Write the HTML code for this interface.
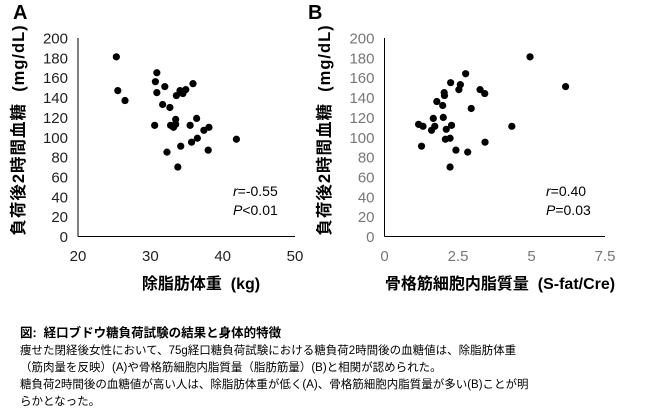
<!DOCTYPE html>
<html><head><meta charset="utf-8"><style>
body{margin:0;background:#fff;width:650px;height:419px;overflow:hidden;font-family:"Liberation Sans","Noto Sans CJK JP",sans-serif}
.cap{position:absolute;left:20px;top:325px;font-size:11.5px;line-height:17px;color:#000;white-space:nowrap}
.cap b{font-size:12.5px}
</style></head><body>
<svg id="svg" width="650" height="320" style="position:absolute;left:0;top:0" font-family="Liberation Sans, Noto Sans CJK JP, sans-serif"></svg>
<div class="cap">
<b>図:&nbsp; 経口ブドウ糖負荷試験の結果と身体的特徴</b><br>
痩せた閉経後女性において、75g経口糖負荷試験における糖負荷2時間後の血糖値は、除脂肪体重<br>
（筋肉量を反映）(A)や骨格筋細胞内脂質量（脂肪筋量）(B)と相関が認められた。<br>
糖負荷2時間後の血糖値が高い人は、除脂肪体重が低く(A)、骨格筋細胞内脂質量が多い(B)ことが明<br>
らかとなった。
</div>
<script>
const aX=[25.3,25.5,26.5,30.9,30.7,30.9,32.0,31.7,32.7,33.6,34.1,34.5,34.9,35.9,30.6,33.5,32.8,33.2,33.5,35.5,36.4,37.4,38.1,36.5,35.7,34.2,32.3,33.8,38.0,41.9];
const aY=[181,147,137,165,156,145,151,133,130,142,147,144,148,154,112,118,112,110,113,112,119,107,110,99,95,91,85,70,87,98];
const bX=[4.95,6.16,2.76,2.25,2.58,2.53,2.03,2.04,3.25,3.41,1.78,1.98,2.95,1.66,2.0,1.16,1.31,1.71,1.6,2.1,2.28,2.07,2.23,1.26,2.43,2.83,3.42,4.33,2.23];
const bY=[181,151,164,155,153,148,145,142,148,144,136,132,129,119,120,113,111,111,107,108,112,98,99,91,87,85,95,111,70];
const yTicks=[0,20,40,60,80,100,120,140,160,180,200];
const aTicks=[20,30,40,50];
const bTicks=[0,2.5,5,7.5];
const bTickLabels=["0","2.5","5","7.5"];
const NS="http://www.w3.org/2000/svg";
const svg=document.getElementById('svg');
function el(t,a,txt){const e=document.createElementNS(NS,t);for(const k in a)e.setAttribute(k,a[k]);if(txt!==undefined)e.textContent=txt;svg.appendChild(e);return e;}
function panel(o){
 const sx=v=>o.x0+(v-o.xmin)/(o.xmax-o.xmin)*(o.x1-o.x0);
 const sy=v=>236.5-v/200*198.5;
 let e=el('line',{x1:o.x0,y1:38,x2:o.x0,y2:236.5,stroke:'#000','stroke-width':1});
 
 e=el('line',{x1:o.x0,y1:236.5,x2:o.x1,y2:236.5,stroke:'#000','stroke-width':1});
 
 yTicks.forEach(t=>{e=el('text',{x:o.x0-10,y:sy(t)+5.5,'text-anchor':'end','font-size':15,fill:o.tc},t);
  });
 o.ticks.forEach((t,i)=>{e=el('text',{x:sx(t),y:261,'text-anchor':'middle','font-size':15,fill:o.tc},o.labels[i]);
  });
 o.xs.forEach((v,i)=>{e=el('circle',{cx:sx(v),cy:sy(o.ys[i]),r:3.6,fill:'#000'});
  });
 e=el('text',{x:o.tx,y:130,transform:`rotate(-90 ${o.tx} 130)`,'text-anchor':'middle','font-size':16.5,'font-weight':'bold','letter-spacing':1},'負荷後2時間血糖\u00a0\u00a0(mg/dL)');
 
 e=el('text',{x:o.xtx,y:289,'text-anchor':'middle','font-size':o.xfs,'font-weight':'bold'},o.xtitle);
 
 e=el('text',{x:o.lx,y:19,'font-size':20,'font-weight':'bold'},o.letter);
 
 e=el('text',{x:o.sx,y:196,'font-size':14});e.innerHTML='<tspan font-style="italic">r</tspan>'+o.r;
 
 e=el('text',{x:o.sx,y:215,'font-size':14});e.innerHTML='<tspan font-style="italic">P</tspan>'+o.p;
 
}
panel({id:'panel-a',x0:78,x1:295,xmin:20,xmax:50,xs:aX,ys:aY,ticks:aTicks,labels:aTicks.map(String),tc:'#222',tx:24,xtitle:'除脂肪体重\u00a0\u00a0(kg)',xtx:201,xfs:16,letter:'A',lx:13,sx:233,r:'=-0.55',p:'<0.01'});
panel({id:'panel-b',x0:384.5,x1:605,xmin:0,xmax:7.5,xs:bX,ys:bY,ticks:bTicks,labels:bTickLabels,tc:'#777',tx:330,xtitle:'骨格筋細胞内脂質量\u00a0\u00a0(S-fat/Cre)',xtx:500,xfs:16,letter:'B',lx:308,sx:546,r:'=0.40',p:'=0.03'});
</script>
</body></html>
